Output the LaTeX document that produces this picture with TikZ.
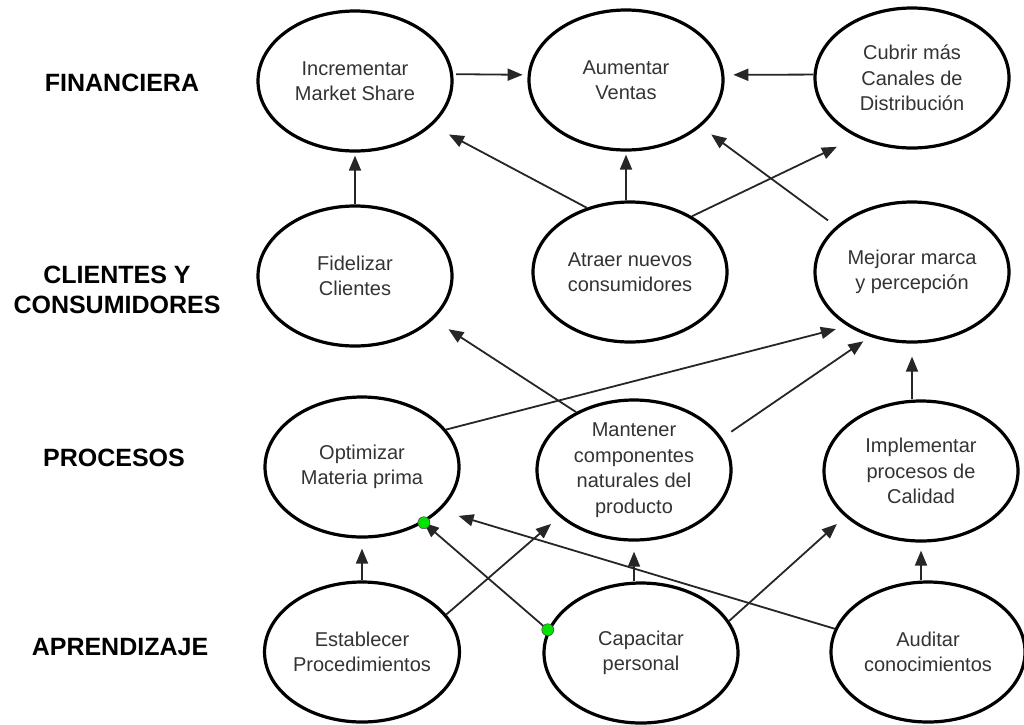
\documentclass[tikz,border=0pt]{standalone}
\usepackage{fontspec}
\setmainfont{Liberation Sans}
\usetikzlibrary{arrows.meta,shapes.geometric}

\begin{document}
\begin{tikzpicture}[
  x=1pt,y=-1pt,
  goal/.style={ellipse,draw,line width=3.2pt,minimum width=194pt,
               minimum height=140pt,inner sep=0pt,align=center,
               text=black!80,font=\fontsize{20}{25.5}\selectfont},
  persp/.style={align=center,font=\fontsize{25}{30}\selectfont\bfseries},
  arr/.style={-{Triangle[length=15pt,width=12pt]},line width=1.8pt,
              draw=black!85},
  handle/.style={circle,fill=green!90!black,draw=black!70,line width=0.6pt,
                 inner sep=0pt,minimum size=12pt},
]
\useasboundingbox (0,0) rectangle (1024,724);

% perspectives
\node[persp] (lblfin) at (122,83)  {FINANCIERA};
\node[persp] (lblcli) at (117,290) {CLIENTES Y\\CONSUMIDORES};
\node[persp] (lblpro) at (114,458) {PROCESOS};
\node[persp] (lblapr) at (120,647) {APRENDIZAJE};

% financiera
\node[goal] (incr) at (355,81) {Incrementar\\Market Share};
\node[goal] (aum)  at (626,80) {Aumentar\\Ventas};
\node[goal] (cub)  at (912,78) {Cubrir más\\Canales de\\Distribución};

% clientes y consumidores
\node[goal] (fid) at (355,276) {Fidelizar\\Clientes};
\node[goal] (atr) at (630,272) {Atraer nuevos\\consumidores};
\node[goal] (mej) at (912,272) {Mejorar marca\\y percepción};

% procesos
\node[goal] (opt) at (362,467) {Optimizar\\Materia prima};
\node[goal] (man) at (634,470) {Mantener\\componentes\\naturales del\\producto};
\node[goal] (imp) at (921,471) {Implementar\\procesos de\\Calidad};

% aprendizaje
\node[goal] (est) at (362,652) {Establecer\\Procedimientos};
\node[goal] (cap) at (641,653) {Capacitar\\personal};
\node[goal] (aud) at (928,652) {Auditar\\conocimientos};

% into the financial goals
\draw[arr,shorten <=3pt,shorten >=5pt] (incr.4) -- (aum.177);
\draw[arr,shorten >=9pt] (cub.178) -- (aum.3);
\draw[arr,shorten >=3pt] (fid.north) -- (incr.south);
\draw[arr,shorten >=3pt] (atr.north -| aum.south) -- (aum.south);
\draw[arr,shorten >=19pt] (atr.124) -- (incr.-30);
\draw[arr,shorten >=22pt] (atr.42) -- (cub.-133);
\draw[arr,shorten <=10pt,shorten >=13pt] (mej.149) -- (aum.-32);

% processes feed the customer goals
\draw[arr,shorten >=18pt] (man.135) -- (fid.-29);
\draw[arr,shorten >=12pt] (opt.24) -- (mej.-140);
\draw[arr,shorten <=11pt,shorten >=8pt] (man.20) -- (mej.-123);
\draw[arr,shorten >=13pt] (imp.north -| mej.south) -- (mej.south);

% learning feeds the processes
\draw[arr,shorten >=10pt] (est.north) -- (opt.south);
\draw[arr,shorten >=11pt] (est.24) -- (man.-148);
\draw[arr] (cap.166) -- (opt.-42);
\draw[arr,shorten >=10pt] (cap.north -| man.south) -- (man.south);
\draw[arr,shorten >=11pt] (cap.20) -- (imp.-149);
\draw[arr,shorten >=19pt] (aud.166) -- (opt.-29);
\draw[arr,shorten >=8pt] (aud.north -| imp.south) -- (imp.south);

% selected connector ends
\node[handle] (hstart) at (cap.166) {};
\node[handle] (hend)   at (opt.-42) {};

\end{tikzpicture}
\end{document}
